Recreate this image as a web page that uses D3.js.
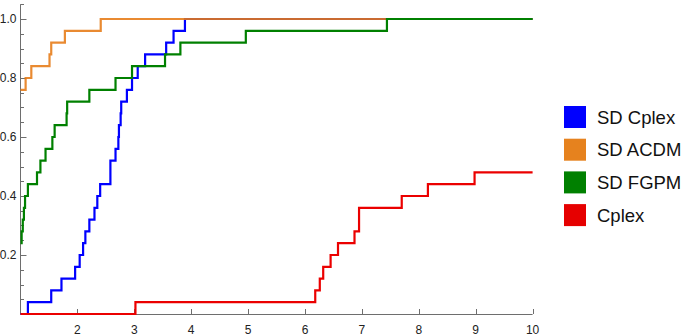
<!DOCTYPE html>
<html>
<head>
<meta charset="utf-8">
<script src="https://cdn.jsdelivr.net/npm/d3@7"></script>
<style>
  body { margin: 0; background: #fff; }
  text { font-family: "Liberation Sans", Arial, sans-serif; }
</style>
</head>
<body>
<div id="chart"></div>
<script>
// Chart size
var width = 694;
var height = 336;

// Number of problems in the profile
var nProblems = 25;

// Performance ratios per solver (sorted)
var sdCplexRatios = [1.13, 1.54, 1.72, 1.96, 2.04, 2.10, 2.14, 2.21, 2.30, 2.35, 2.40, 2.58, 2.58,
                     2.67, 2.72, 2.73, 2.76, 2.77, 2.87, 2.96, 3.06, 3.19, 3.56, 3.69, 3.89];
var sdAcdmRatios = [1, 1, 1, 1, 1, 1, 1, 1, 1, 1, 1, 1, 1, 1, 1, 1, 1, 1, 1,
                    1.09, 1.19, 1.51, 1.54, 1.78, 2.41];
var sdFgpmRatios = [1, 1, 1, 1, 1, 1, 1.02, 1.04, 1.06, 1.08, 1.13, 1.29, 1.35, 1.44, 1.56, 1.60,
                    1.81, 1.82, 2.21, 2.67, 2.96, 3.54, 3.81, 4.96, 7.44];
var cplexRatios = [3.02, 6.18, 6.26, 6.32, 6.45, 6.58, 6.87, 6.95, 6.95, 7.70, 8.16, 8.98];

var seriesNames = ["SD Cplex", "SD ACDM", "SD FGPM", "Cplex"];
var seriesColors = ["rgb(0,0,255)", "rgb(230,122,20)", "rgb(0,128,0)", "rgb(235,0,0)"];
var legendColors = ["rgb(0,0,255)", "rgb(230,130,30)", "rgb(0,128,0)", "rgb(230,0,0)"];
var seriesRatios = [sdCplexRatios, sdAcdmRatios, sdFgpmRatios, cplexRatios];

var xTicks = [2, 3, 4, 5, 6, 7, 8, 9, 10];
var yTicks = [0.2, 0.4, 0.6, 0.8, 1.0];

// Build step points for a performance profile
function profilePoints(ratios, tMax) {
    var pts = [];
    var at1 = ratios.filter(function(r) { return r <= 1; }).length;
    pts.push([1, at1 / nProblems]);
    var distinct = Array.from(new Set(ratios.filter(function(r) { return r > 1 && r <= tMax; })));
    distinct.forEach(function(r) {
        var c = ratios.filter(function(v) { return v <= r; }).length;
        pts.push([r, c / nProblems]);
    });
    pts.push([tMax, pts[pts.length - 1][1]]);
    return pts;
}

var svg = d3.select("#chart")
    .append("svg")
    .attr("width", width)
    .attr("height", height);

var x = d3.scaleLinear().domain([1, 10]).range([20.5, 532.6]);
var y = d3.scaleLinear().domain([0, 1.05]).range([314, 4.25]);

var axisColor = "#6e6e6e";

// y axis line and ticks
svg.append("line")
    .attr("x1", x(1)).attr("x2", x(1))
    .attr("y1", y(1.05)).attr("y2", y(0))
    .attr("stroke", axisColor).attr("stroke-width", 1);

var yMinor = d3.range(1, 22).map(function(i) { return i * 0.05; });
svg.selectAll(".yminor")
    .data(yMinor)
    .enter().append("line")
    .attr("x1", x(1)).attr("x2", function(d, i) { return (i + 1) % 4 === 0 ? x(1) + 6 : x(1) + 3.5; })
    .attr("y1", function(d) { return Math.round(y(d)) + 0.5; })
    .attr("y2", function(d) { return Math.round(y(d)) + 0.5; })
    .attr("stroke", axisColor).attr("stroke-width", 1);

svg.selectAll(".ylabel")
    .data(yTicks)
    .enter().append("text")
    .attr("x", 16.5)
    .attr("y", function(d) { return y(d) + 4.3; })
    .attr("text-anchor", "end")
    .attr("font-size", 12)
    .attr("fill", "#222")
    .text(function(d) { return d.toFixed(1); });

// x axis line and ticks
svg.append("line")
    .attr("x1", x(1)).attr("x2", x(10))
    .attr("y1", y(0) + 0.5).attr("y2", y(0) + 0.5)
    .attr("stroke", axisColor).attr("stroke-width", 1);

svg.selectAll(".xtick")
    .data(xTicks)
    .enter().append("line")
    .attr("x1", function(d) { return Math.round(x(d)) + 0.5; })
    .attr("x2", function(d) { return Math.round(x(d)) + 0.5; })
    .attr("y1", y(0)).attr("y2", y(0) - 5)
    .attr("stroke", axisColor).attr("stroke-width", 1);

svg.selectAll(".xlabel")
    .data(xTicks)
    .enter().append("text")
    .attr("x", function(d) { return x(d); })
    .attr("y", 334)
    .attr("text-anchor", "middle")
    .attr("font-size", 12)
    .attr("fill", "#222")
    .text(function(d) { return d; });

// step lines (orange slightly see-through so it mixes with blue where they overlap)
var line = d3.line()
    .x(function(d) { return x(d[0]); })
    .y(function(d) { return y(d[1]); })
    .curve(d3.curveStepAfter);

seriesRatios.forEach(function(ratios, i) {
    svg.append("path")
        .attr("d", line(profilePoints(ratios, 10)))
        .attr("fill", "none")
        .attr("stroke", seriesColors[i])
        .attr("stroke-opacity", i === 1 ? 0.88 : 1)
        .attr("stroke-width", 2.2);
});

// legend
var legend = svg.append("g")
    .attr("transform", "translate(564,106)");

legend.selectAll("rect")
    .data(seriesNames)
    .enter().append("rect")
    .attr("x", 0)
    .attr("y", function(d, i) { return i * 32.7; })
    .attr("width", 22)
    .attr("height", 22)
    .attr("fill", function(d, i) { return legendColors[i]; });

legend.selectAll("text")
    .data(seriesNames)
    .enter().append("text")
    .attr("x", 33)
    .attr("y", function(d, i) { return i * 32.7 + 17.5; })
    .attr("font-size", 18.5)
    .attr("fill", "#111")
    .text(function(d) { return d; });
</script>
</body>
</html>
